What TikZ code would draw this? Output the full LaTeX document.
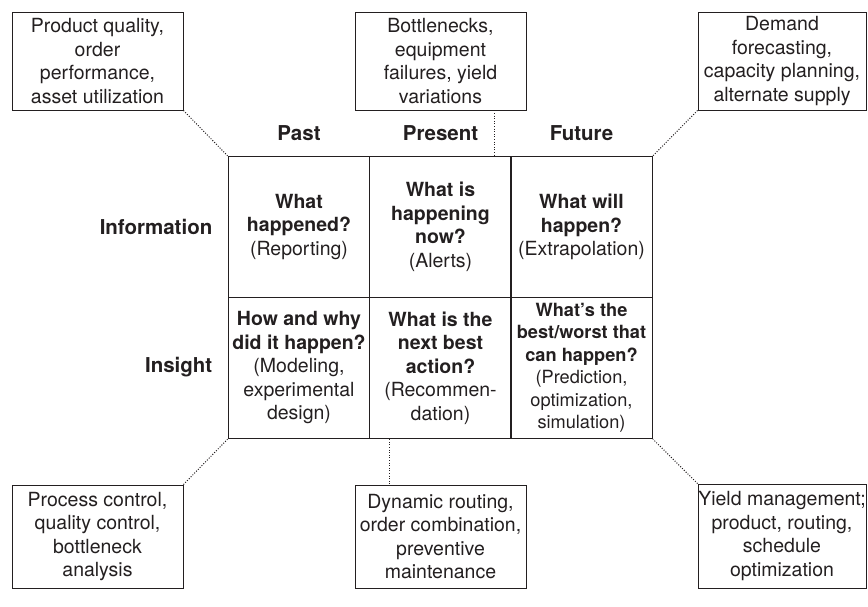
\documentclass[tikz,border=0pt]{standalone}
\usepackage{fontspec}
\setmainfont{TeX Gyre Heros}
\usetikzlibrary{calc}
\definecolor{ink}{HTML}{231F20}
\begin{document}
\begin{tikzpicture}[x=1pt,y=-1pt,
  every node/.style={text=ink, font=\fontsize{19.5}{23.5}\selectfont, inner sep=0pt},
  notebox/.style={draw=ink, line width=0.9pt, align=center},
  cell/.style={draw=ink, line width=1.4pt, align=center, minimum width=141.5pt, minimum height=141pt},
  header/.style={font=\fontsize{20.5}{24}\selectfont\bfseries},
  link/.style={draw=ink, line width=1pt, dash pattern=on 1pt off 1.6pt}
]
\useasboundingbox (0,0) rectangle (868,607);

% 2x3 grid of questions
\node[cell] (c11) at (299,227) {\textbf{What}\\\textbf{happened?}\\(Reporting)};
\node[cell] (c12) at (440.5,227) {\textbf{What is}\\\textbf{happening}\\\textbf{now?}\\(Alerts)};
\node[cell] (c13) at (581.5,227) {\textbf{What will}\\\textbf{happen?}\\(Extrapolation)};
\node[cell] (c21) at (299,368) {\textbf{How and why}\\\textbf{did it happen?}\\(Modeling,\\experimental\\design)};
\node[cell] (c22) at (440.5,368) {\textbf{What is the}\\\textbf{next best}\\\textbf{action?}\\(Recommen-\\dation)};
\node[cell, font=\fontsize{18.2}{22.5}\selectfont] (c23) at (581.5,368) {\textbf{What’s the}\\\textbf{best/worst that}\\\textbf{can happen?}\\(Prediction,\\optimization,\\simulation)};

% column and row headings
\node[header] (hpast) at (299,133) {Past};
\node[header] (hpres) at (440.5,133) {Present};
\node[header] (hfut) at (581.5,133) {Future};
\node[header, anchor=east] (hinfo) at (212.5,227) {Information};
\node[header, anchor=east] (hins) at (212.5,367) {Insight};

% example boxes
\node[notebox, minimum width=171pt, minimum height=98pt] (tl) at (97.5,61) {Product quality,\\order\\performance,\\asset utilization};
\node[notebox, minimum width=171pt, minimum height=98pt] (tm) at (440.5,61) {Bottlenecks,\\equipment\\failures, yield\\variations};
\node[notebox, minimum width=168pt, minimum height=98pt] (tr) at (782,61) {Demand\\forecasting,\\capacity planning,\\alternate supply};
\node[notebox, minimum width=171pt, minimum height=103pt] (bl) at (97.5,536.5) {Process control,\\quality control,\\bottleneck\\analysis};
\node[notebox, minimum width=171pt, minimum height=103pt] (bm) at (440.5,536.5) {Dynamic routing,\\order combination,\\preventive\\maintenance};
\node[notebox, minimum width=168pt, minimum height=104pt] (br) at (782,536) {Yield management;\\product, routing,\\schedule\\optimization};

% dotted leaders
\coordinate (tmd) at ($(tm.south)+(53.5,0)$);
\coordinate (bmd) at ($(c22.south)+(-51.5,0)$);
\draw[link] (tl.south east) -- (c11.north west);
\draw[link] (tmd) -- (tmd |- c12.north);
\draw[link] (tr.south west) -- (c13.north east);
\draw[link] (bl.north east) -- (c21.south west);
\draw[link] (bmd) -- (bmd |- bm.north);
\draw[link] (br.north west) -- (c23.south east);
\end{tikzpicture}
\end{document}
